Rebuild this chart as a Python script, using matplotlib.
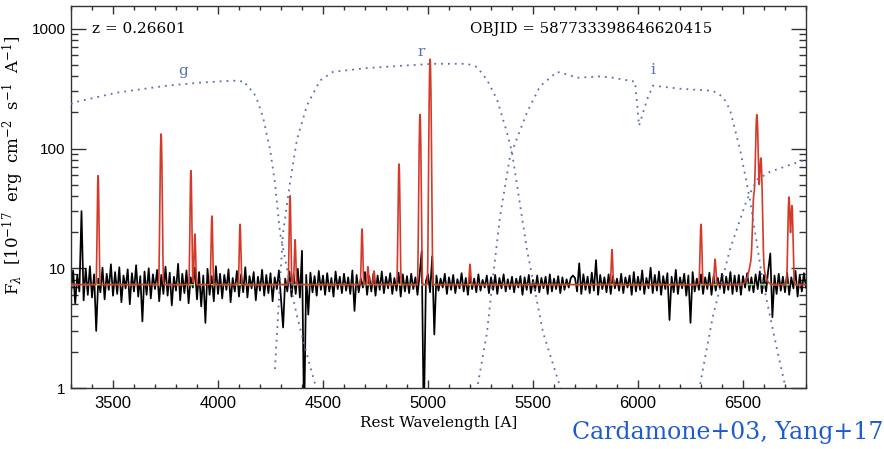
"""SDSS-style rest-frame spectrum with emission-line fit and ugriz filter curves."""
import numpy as np
import matplotlib

matplotlib.use("Agg")
import matplotlib.pyplot as plt
from matplotlib.ticker import MultipleLocator, LogLocator, NullFormatter

plt.rcParams["mathtext.fontset"] = "dejavuserif"

wave_start, wave_step = 3300, 10
flux = [
    6.2, 9.6, 5.1, 8.8, 6.4, 30.0, 5.4, 9.9, 6.0, 10.4,
    5.7, 8.9, 3.0, 8.2, 6.3, 10.1, 5.5, 9.0, 6.6, 10.8,
    5.9, 9.3, 6.1, 10.2, 5.2, 8.7, 6.8, 9.8, 5.0, 9.1,
    6.4, 10.6, 5.8, 8.6, 3.6, 9.4, 6.0, 10.0, 5.6, 8.9,
    6.7, 9.7, 5.3, 8.8, 6.1, 10.3, 5.9, 9.2, 4.9, 8.5,
    6.5, 10.9, 5.4, 9.0, 6.2, 9.6, 5.1, 8.4, 6.9, 10.1,
    5.5, 9.3, 4.8, 8.7, 3.5, 9.9, 6.0, 8.6, 5.3, 10.4,
    6.1, 9.0, 5.6, 8.8, 6.6, 9.8, 5.2, 8.3, 6.4, 9.5,
    5.8, 8.9, 6.3, 10.2, 5.7, 8.6, 6.8, 9.3, 5.4, 8.5,
    6.5, 9.7, 5.9, 8.8, 6.2, 9.1, 5.3, 8.4, 6.7, 9.6,
    5.6, 3.2, 8.2, 6.4, 9.4, 5.8, 8.9, 6.1, 9.9, 5.7,
    14.0, 0.5, 8.8, 4.1, 9.2, 6.3, 8.6, 5.9, 9.5, 6.6,
    8.7, 6.0, 9.1, 6.4, 8.3, 5.8, 9.4, 6.7, 8.5, 6.2,
    9.0, 6.5, 8.4, 6.1, 9.6, 4.4, 8.8, 6.3, 8.2, 6.9,
    9.3, 6.0, 8.6, 6.4, 9.0, 5.9, 8.7, 6.6, 9.4, 6.2,
    8.5, 6.8, 9.1, 6.1, 8.3, 6.5, 9.2, 5.8, 8.9, 6.4,
    8.6, 6.2, 9.0, 6.7, 8.4, 6.0, 8.8, 13.9, 0.5, 7.8,
    8.9, 6.3, 12.6, 2.8, 8.7, 6.5, 8.2, 6.9, 9.0, 6.1,
    8.4, 6.6, 8.8, 6.2, 8.1, 6.8, 9.1, 6.4, 8.3, 6.0,
    8.6, 6.7, 8.2, 6.3, 8.9, 6.5, 8.0, 6.9, 8.7, 6.2,
    8.4, 6.6, 8.8, 6.1, 8.3, 6.8, 8.9, 6.4, 8.1, 6.7,
    8.5, 6.3, 8.2, 6.9, 8.6, 6.0, 8.4, 6.6, 8.8, 6.2,
    8.0, 6.5, 8.7, 6.3, 8.3, 6.8, 8.5, 6.1, 8.9, 6.4,
    8.2, 6.7, 8.6, 6.2, 8.4, 6.6, 8.1, 6.9, 8.3, 8.7,
    8.3, 6.4, 11.0, 6.1, 8.9, 6.6, 8.5, 6.2, 9.2, 6.5,
    11.7, 6.0, 8.8, 6.7, 8.4, 6.3, 8.9, 6.1, 8.6, 6.8,
    8.2, 6.5, 9.0, 6.2, 8.4, 6.9, 8.7, 6.0, 9.3, 6.4,
    8.5, 6.6, 9.6, 6.1, 8.3, 6.8, 10.1, 6.2, 8.8, 6.5,
    9.4, 6.0, 8.6, 6.7, 9.1, 3.7, 8.5, 6.3, 9.7, 6.1,
    8.4, 6.8, 9.0, 5.9, 8.7, 3.5, 9.3, 6.4, 8.2, 6.6,
    8.9, 6.1, 8.4, 6.7, 9.2, 6.0, 8.6, 6.5, 8.3, 6.8,
    9.0, 6.2, 8.5, 6.6, 9.3, 6.1, 8.7, 6.4, 8.8, 6.0,
    8.6, 6.9, 9.1, 6.5, 8.4, 6.3, 8.9, 6.7, 9.4, 6.2,
    8.8, 6.4, 9.6, 13.3, 3.9, 8.7, 6.1, 9.0, 6.5, 8.5,
    6.3, 9.2, 6.0, 8.4, 6.8, 9.5, 5.8, 8.8, 6.4, 9.1,
    6.9,
]

# ---- emission-line fit: continuum + gaussians ----
continuum = 7.3
line_center = [3429, 3729, 3871, 3890, 3971, 4105, 4343, 4367, 4686, 4714,
               4743, 4862, 4962, 5010, 5200, 5876, 6300, 6367, 6551, 6566,
               6585, 6719, 6733, 6565]
line_amp = [52, 125, 58, 12, 20, 16, 33, 10, 14, 3.0,
            2.2, 67, 185, 550, 3.5, 7.0, 16, 4.6, 24, 175,
            70, 32, 26, 9]
line_sigma = [3.0, 3.5, 3.0, 3.0, 3.0, 3.0, 3.0, 3.0, 3.0, 3.0,
              3.0, 3.2, 3.5, 3.5, 3.0, 3.0, 3.5, 3.5, 4.5, 5.0,
              5.0, 4.0, 4.0, 22.0]

# ---- SDSS filter curves (as drawn, in plot units) ----
g_wave = [3300, 3310, 3519, 3757, 3914, 4071, 4129, 4138, 4167, 4186, 4214,
          4248, 4271, 4295, 4336, 4376, 4420, 4471]
g_val = [235, 242, 293, 335, 355, 369, 362, 329, 300, 256, 184,
         98, 52, 20, 8.5, 4.0, 2.0, 0.95]
r_wave = [4271, 4295, 4310, 4343, 4376, 4424, 4486, 4548, 4710, 4867, 5024,
          5186, 5233, 5281, 5329, 5376, 5400, 5471, 5548, 5635]
r_val = [1.44, 7.6, 20, 52, 119, 230, 370, 437, 470, 490, 510,
         510, 480, 375, 256, 136, 93, 14.4, 2.9, 0.95]
i_wave = [5232, 5281, 5310, 5343, 5390, 5471, 5533, 5614, 5662, 5710, 5819,
          5881, 5986, 6005, 6043, 6071, 6200, 6357, 6405, 6438, 6486, 6533,
          6595, 6662, 6706]
i_val = [0.95, 2.9, 8.6, 27, 85, 200, 330, 437, 415, 390, 400,
         390, 362, 155, 256, 335, 316, 303, 270, 211, 98, 37.6,
         7.6, 2.1, 0.95]
z_wave = [6290, 6357, 6438, 6519, 6567, 6629, 6724, 6800]
z_val = [0.95, 4.0, 14.4, 37.6, 55, 64, 73, 81]

BLUE = "#5b6db3"
RED = "#d43a2a"


def main() -> None:
    wave = wave_start + wave_step * np.arange(len(flux))
    grid = np.linspace(3300, 6800, 3501)
    model = np.full_like(grid, continuum, dtype=float)
    for c, a, s in zip(line_center, line_amp, line_sigma):
        model += a * np.exp(-0.5 * ((grid - c) / s) ** 2)

    fig = plt.figure(figsize=(8.84, 4.49), dpi=100)
    ax = fig.add_axes([71 / 884, 1 - 388 / 449, 735 / 884, 382 / 449])

    ax.plot(wave, flux, color="black", lw=1.25, zorder=2)
    ax.plot(grid, np.full_like(grid, continuum), color="#8fd46a", lw=1.2,
            ls=(0, (4, 3)), zorder=3)
    ax.plot(grid, model, color=RED, lw=1.2, zorder=4)

    dot = (0, (1, 2.8))
    for w, v in [(g_wave, g_val), (r_wave, r_val), (i_wave, i_val), (z_wave, z_val)]:
        ax.plot(w, v, color=BLUE, lw=1.3, ls=dot, zorder=5)

    serif = dict(family="DejaVu Serif")
    ax.text(3833, 440, "g", color=BLUE, ha="center", va="center", fontsize=11, **serif)
    ax.text(4967, 640, "r", color=BLUE, ha="center", va="center", fontsize=11, **serif)
    ax.text(6071, 455, "i", color=BLUE, ha="center", va="center", fontsize=11, **serif)

    ax.text(3400, 1000, "z = 0.26601", ha="left", va="center", fontsize=11, **serif)
    ax.text(5200, 1000, "OBJID = 587733398646620415", ha="left", va="center",
            fontsize=10.8, **serif)

    ax.set_yscale("log")
    ax.set_xlim(3300, 6800)
    ax.set_ylim(1, 1550)
    ax.xaxis.set_major_locator(MultipleLocator(500))
    ax.xaxis.set_minor_locator(MultipleLocator(100))
    ax.set_yticks([1, 10, 100, 1000], labels=["1", "10", "100", "1000"])
    ax.yaxis.set_minor_locator(LogLocator(base=10, subs=np.arange(2, 10)))
    ax.yaxis.set_minor_formatter(NullFormatter())

    ax.tick_params(which="both", direction="in", top=True, right=True,
                   color="#333333", width=1.0)
    ax.tick_params(axis="x", which="major", length=5.8, pad=6)
    ax.tick_params(axis="x", which="minor", length=2.9)
    ax.tick_params(axis="y", which="major", length=10.8, pad=4)
    ax.tick_params(axis="y", which="minor", length=5.0)
    for lab in ax.get_xticklabels():
        lab.set_family("Liberation Sans")
        lab.set_fontsize(12)
    for lab in ax.get_yticklabels():
        lab.set_family("Liberation Sans")
        lab.set_fontsize(11)
    for sp in ax.spines.values():
        sp.set_color("#333333")
        sp.set_linewidth(1.0)

    ax.set_xlabel("Rest Wavelength [A]", fontsize=11, labelpad=3, **serif)
    ax.set_ylabel(r"F$_\lambda$  [10$^{-17}$  erg  cm$^{-2}$  s$^{-1}$  A$^{-1}$]",
                  fontsize=12, **serif)
    ax.yaxis.set_label_coords(-45 / 735, (388 - 165) / 382)

    fig.text(0.999, 0.012, "Cardamone+03, Yang+17", color="#1f5bd0",
             ha="right", va="bottom", fontsize=17, family="DejaVu Serif")

    fig.savefig("out.png", dpi=100, facecolor="white")
    plt.close(fig)


if __name__ == "__main__":
    main()
